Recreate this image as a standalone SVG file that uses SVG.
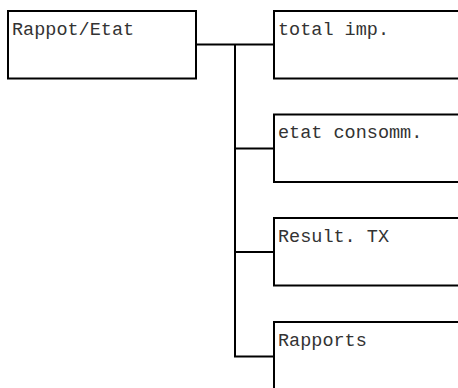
<svg xmlns="http://www.w3.org/2000/svg" width="458" height="388" viewBox="0 0 458 388">
<style>
.box{fill:#fff;stroke:#000;stroke-width:2}
.lbl{font-family:"Liberation Mono","Courier New",monospace;font-size:18.5px;fill:#333}
.con{fill:none;stroke:#000;stroke-width:2}
</style>
<rect width="458" height="388" fill="#fff"/>
<g id="connectors">
<path class="con" d="M196 44.5H274"/>
<path class="con" d="M235 44.5V356.5H274"/>
<path class="con" d="M235 148.5H274"/>
<path class="con" d="M235 252H274"/>
</g>
<g id="root">
<rect class="box" x="8" y="11" width="188" height="67.5"/>
<text class="lbl" x="12" y="34.5">Rappot/Etat</text>
</g>
<g id="total">
<rect class="box" x="274" y="11" width="200" height="67.5"/>
<text class="lbl" x="278" y="34.5">total imp.</text>
</g>
<g id="etat">
<rect class="box" x="274" y="114.5" width="200" height="67.5"/>
<text class="lbl" x="278" y="138">etat consomm.</text>
</g>
<g id="result">
<rect class="box" x="274" y="218" width="200" height="67.5"/>
<text class="lbl" x="278" y="241.5">Result. TX</text>
</g>
<g id="rapports">
<rect class="box" x="274" y="322" width="200" height="80"/>
<text class="lbl" x="278" y="345.5">Rapports</text>
</g>
</svg>
